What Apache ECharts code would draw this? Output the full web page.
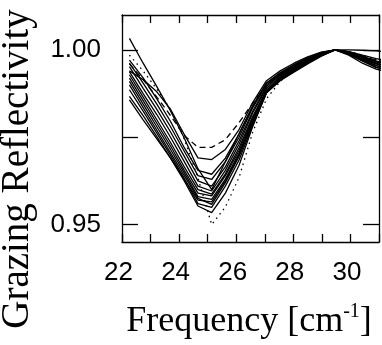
<!DOCTYPE html>
<html>
<head>
<meta charset="utf-8">
<script src="https://cdn.jsdelivr.net/npm/echarts@6/dist/echarts.min.js"></script>
<style>
  html, body { margin: 0; padding: 0; background: #fff; }
  #chart { width: 382px; height: 345px; }
</style>
</head>
<body>
<div id="chart"></div>
<script>
// frequency grid [cm^-1]
const freq = [22.26, 22.74, 23.22, 23.70, 24.18, 24.66, 25.14, 25.62, 26.10, 26.58,
              27.06, 27.54, 28.02, 28.50, 28.98, 29.46, 29.94, 30.42, 30.90, 31.38];

// grazing reflectivity, one array per spectrum
const solid01 = [1.0033, 0.9962, 0.9895, 0.9825, 0.9748, 0.9660, 0.9600, 0.9680, 0.9760, 0.9840, 0.9905, 0.9935, 0.9958, 0.9978, 0.9993, 1.0000, 0.9995, 0.9982, 0.9968, 0.9958];
const solid02 = [0.9940, 0.9915, 0.9880, 0.9830, 0.9758, 0.9691, 0.9686, 0.9715, 0.9772, 0.9850, 0.9912, 0.9940, 0.9962, 0.9980, 0.9994, 1.0000, 1.0000, 0.9999, 0.9997, 0.9994];
const solid03 = [0.9971, 0.9920, 0.9860, 0.9795, 0.9720, 0.9655, 0.9644, 0.9690, 0.9760, 0.9840, 0.9905, 0.9932, 0.9955, 0.9975, 0.9990, 1.0000, 0.9990, 0.9975, 0.9960, 0.9950];
const solid04 = [0.9962, 0.9905, 0.9845, 0.9780, 0.9710, 0.9640, 0.9629, 0.9680, 0.9750, 0.9835, 0.9900, 0.9930, 0.9952, 0.9972, 0.9990, 1.0000, 0.9992, 0.9978, 0.9962, 0.9952];
const solid05 = [0.9952, 0.9890, 0.9830, 0.9765, 0.9695, 0.9625, 0.9610, 0.9665, 0.9740, 0.9825, 0.9895, 0.9928, 0.9950, 0.9972, 0.9990, 1.0000, 0.9990, 0.9972, 0.9955, 0.9945];
const solid06 = [0.9938, 0.9875, 0.9815, 0.9750, 0.9680, 0.9610, 0.9596, 0.9655, 0.9730, 0.9820, 0.9890, 0.9925, 0.9948, 0.9970, 0.9988, 1.0000, 0.9988, 0.9970, 0.9950, 0.9940];
const solid07 = [0.9929, 0.9865, 0.9800, 0.9735, 0.9665, 0.9600, 0.9587, 0.9645, 0.9720, 0.9810, 0.9885, 0.9922, 0.9946, 0.9968, 0.9987, 1.0000, 0.9990, 0.9975, 0.9960, 0.9952];
const solid08 = [0.9919, 0.9855, 0.9790, 0.9725, 0.9655, 0.9590, 0.9582, 0.9640, 0.9712, 0.9805, 0.9882, 0.9920, 0.9945, 0.9967, 0.9986, 1.0000, 0.9992, 0.9978, 0.9965, 0.9957];
const solid09 = [0.9910, 0.9845, 0.9780, 0.9715, 0.9648, 0.9580, 0.9572, 0.9630, 0.9705, 0.9800, 0.9880, 0.9918, 0.9943, 0.9965, 0.9985, 1.0000, 0.9993, 0.9980, 0.9968, 0.9960];
const solid10 = [0.9900, 0.9835, 0.9770, 0.9705, 0.9640, 0.9575, 0.9558, 0.9620, 0.9695, 0.9790, 0.9878, 0.9915, 0.9940, 0.9963, 0.9984, 1.0000, 0.9988, 0.9968, 0.9950, 0.9942];
const solid11 = [0.9886, 0.9825, 0.9762, 0.9698, 0.9632, 0.9560, 0.9549, 0.9610, 0.9685, 0.9785, 0.9877, 0.9913, 0.9938, 0.9962, 0.9983, 1.0000, 0.9990, 0.9972, 0.9955, 0.9946];
const solid12 = [0.9867, 0.9812, 0.9752, 0.9690, 0.9625, 0.9553, 0.9534, 0.9590, 0.9670, 0.9781, 0.9877, 0.9912, 0.9936, 0.9960, 0.9982, 1.0000, 0.9995, 0.9985, 0.9975, 0.9968];
const solid13 = [0.9857, 0.9800, 0.9745, 0.9690, 0.9630, 0.9570, 0.9565, 0.9625, 0.9700, 0.9795, 0.9882, 0.9918, 0.9942, 0.9965, 0.9985, 1.0000, 0.9985, 0.9962, 0.9945, 0.9936];
const dashedCurve = [0.9960, 0.9915, 0.9865, 0.9812, 0.9755, 0.9721, 0.9721, 0.9743, 0.9792, 0.9848, 0.9898, 0.9932, 0.9955, 0.9975, 0.9990, 1.0000, 0.9995, 0.9982, 0.9970, 0.9962];
const dottedCurve = [0.9985, 0.9940, 0.9888, 0.9830, 0.9745, 0.9633, 0.9500, 0.9550, 0.9635, 0.9765, 0.9860, 0.9910, 0.9945, 0.9970, 0.9990, 1.0000, 0.9996, 0.9985, 0.9972, 0.9965];

const xTicks = [22, 24, 26, 28, 30];
const yTickValues = [0.95, 0.975, 1.0];
const yLabelValues = [0.95, 1.0];

const solids = [solid01, solid02, solid03, solid04, solid05, solid06, solid07,
                solid08, solid09, solid10, solid11, solid12, solid13];

const chart = echarts.init(document.getElementById('chart'), null, { renderer: 'canvas' });

function lineSeries(vals, type) {
  return {
    type: 'line',
    data: freq.map((f, i) => [f, vals[i]]),
    showSymbol: false,
    clip: true,
    silent: true,
    lineStyle: { color: '#000', width: 1.3, type: type }
  };
}

const series = solids.map(s => lineSeries(s, 'solid'));
series.push(lineSeries(dashedCurve, [6, 4]));
series.push(lineSeries(dottedCurve, [1.5, 4]));

const frame = { show: true, lineStyle: { color: '#000', width: 1.3 } };
const tickStyle = { color: '#000', width: 1.3 };

chart.setOption({
  animation: false,
  grid: { left: 122, top: 15, width: 257, height: 227 },
  xAxis: [{
    type: 'value', min: 22, max: 31, interval: 1,
    axisLine: frame,
    axisTick: { inside: true, length: 8, lineStyle: tickStyle },
    splitLine: { show: false },
    axisLabel: {
      color: '#000', fontFamily: 'Liberation Sans', fontSize: 26, margin: 18,
      padding: [0, 7, 0, 0],
      formatter: v => xTicks.includes(v) ? String(v) : ''
    }
  }, {
    type: 'value', position: 'top', min: 22, max: 31, interval: 1,
    axisLine: frame,
    axisTick: { inside: true, length: 8, lineStyle: tickStyle },
    axisLabel: { show: false },
    splitLine: { show: false }
  }],
  yAxis: [{
    type: 'value', min: 0.945, max: 1.01,
    axisLine: frame,
    axisTick: { inside: true, length: 16, lineStyle: tickStyle, customValues: yTickValues },
    splitLine: { show: false },
    axisLabel: {
      color: '#000', fontFamily: 'Liberation Sans', fontSize: 26, margin: 21,
      padding: [0, 0, 16, 0],
      customValues: yLabelValues,
      formatter: v => v.toFixed(2)
    }
  }, {
    type: 'value', position: 'right', min: 0.945, max: 1.01,
    axisLine: frame,
    axisTick: { inside: true, length: 16, lineStyle: tickStyle, customValues: yTickValues },
    axisLabel: { show: false },
    splitLine: { show: false }
  }],
  graphic: [{
    type: 'text', x: 18, y: 169, rotation: Math.PI / 2,
    style: {
      text: 'Grazing Reflectivity', fill: '#000',
      fontFamily: 'Liberation Serif', fontSize: 39,
      align: 'center', verticalAlign: 'middle'
    }
  }, {
    type: 'text', x: 249, y: 322,
    style: {
      text: '{a|Frequency [cm}{s|-1}{a|]}',
      align: 'center', verticalAlign: 'middle',
      rich: {
        a: { fill: '#000', fontFamily: 'Liberation Serif', fontSize: 36, lineHeight: 40 },
        s: { fill: '#000', fontFamily: 'Liberation Serif', fontSize: 20, lineHeight: 20, verticalAlign: 'top' }
      }
    }
  }],
  series
});
</script>
</body>
</html>
